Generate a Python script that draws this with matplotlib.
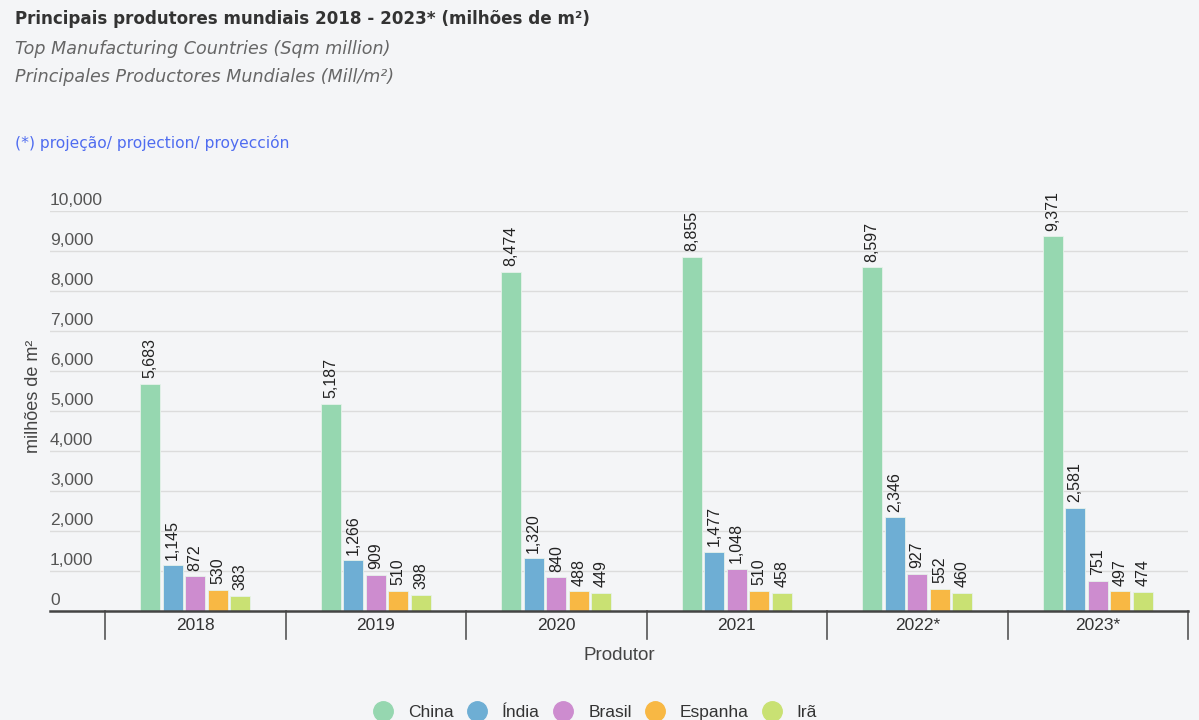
import numpy as np
import matplotlib
matplotlib.use('Agg')
import matplotlib.pyplot as plt
from matplotlib.lines import Line2D

years = ['2018', '2019', '2020', '2021', '2022*', '2023*']
countries = ['China', 'Índia', 'Brasil', 'Espanha', 'Irã']
china = [5683, 5187, 8474, 8855, 8597, 9371]
india = [1145, 1266, 1320, 1477, 2346, 2581]
brasil = [872, 909, 840, 1048, 927, 751]
espanha = [530, 510, 488, 510, 552, 497]
ira = [383, 398, 449, 458, 460, 474]
series = [china, india, brasil, espanha, ira]
colors = ['#96d7b0', '#6eaed4', '#cd8ccf', '#f8b844', '#c9e173']

bg = '#f4f5f7'
fig = plt.figure(figsize=(11.99, 7.2), dpi=100, facecolor=bg)
ax = fig.add_axes([50/1199, 109/720, 1138/1199, 400/720])
ax.set_facecolor(bg)

x = np.arange(len(years))
slot = 0.125
w = 0.11
for i, (vals, c) in enumerate(zip(series, colors)):
    pos = x + (i - 2) * slot
    ax.bar(pos, vals, width=w, color=c, edgecolor='#e6f2ea', linewidth=0.6, zorder=3)
    for p, v in zip(pos, vals):
        ax.text(p, v + 140, f'{v:,}', rotation=90, ha='center', va='bottom',
                fontsize=11.5, color='#222222', family='Liberation Sans', clip_on=False)

ax.set_xlim(-0.5 - 55/180.5, 5.5)
ax.set_ylim(0, 10000)
for s in ['top', 'right', 'left']:
    ax.spines[s].set_visible(False)
ax.spines['bottom'].set_color('#444444')
ax.spines['bottom'].set_linewidth(1.8)
ax.spines['bottom'].set_zorder(4)

yt = np.arange(0, 10001, 1000)
ax.set_yticks(yt)
ax.set_yticklabels([])
ax.tick_params(axis='y', length=0)
for v in yt[1:]:
    ax.axhline(v, color='#dcdcdc', linewidth=1, zorder=1)
for v in yt:
    ax.text(0.0, v + 270, f'{v:,}', transform=ax.get_yaxis_transform(), ha='left', va='center',
            fontsize=12.5, color='#555555', family='Liberation Sans')

ax.set_xticks(x)
ax.set_xticklabels(years, fontsize=12.5, color='#333333', family='Liberation Sans')
ax.tick_params(axis='x', length=0, pad=5)
for b in np.arange(-0.5, 5.6, 1):
    ax.plot([b, b], [0, -0.07], transform=ax.get_xaxis_transform(), color='#555555',
            linewidth=1.2, clip_on=False)

ax.set_xlabel('Produtor', fontsize=13.5, color='#444444', family='Liberation Sans', labelpad=10)
fig.text(33/1199, 1 - 396/720, 'milhões de m²', rotation=90, ha='center', va='center',
         fontsize=13, color='#444444', family='Liberation Sans')

fig.text(15/1199, 1 - 19/720, 'Principais produtores mundiais 2018 - 2023* (milhões de m²)',
         fontsize=12.1, fontweight='bold', color='#333333', va='center', family='DejaVu Sans')
fig.text(15/1199, 1 - 49/720, 'Top Manufacturing Countries (Sqm million)',
         fontsize=12.6, style='italic', color='#666666', va='center', family='DejaVu Sans')
fig.text(15/1199, 1 - 77/720, 'Principales Productores Mundiales (Mill/m²)',
         fontsize=12.6, style='italic', color='#666666', va='center', family='DejaVu Sans')
fig.text(15/1199, 1 - 143/720, '(*) projeção/ projection/ proyección',
         fontsize=11.2, color='#4f6cf0', va='center', family='DejaVu Sans')

handles = [Line2D([], [], marker='o', linestyle='none', markersize=14, markerfacecolor=c,
                  markeredgecolor=c) for c in colors]
fig.legend(handles, countries, loc='center', bbox_to_anchor=(595/1199, 1 - 712/720), ncol=5,
           frameon=False, prop={'family': 'Liberation Sans', 'size': 12.5},
           handletextpad=0.85, columnspacing=0.72, handlelength=1.2, labelcolor='#333333')

fig.savefig('out.png', dpi=100, facecolor=bg)
